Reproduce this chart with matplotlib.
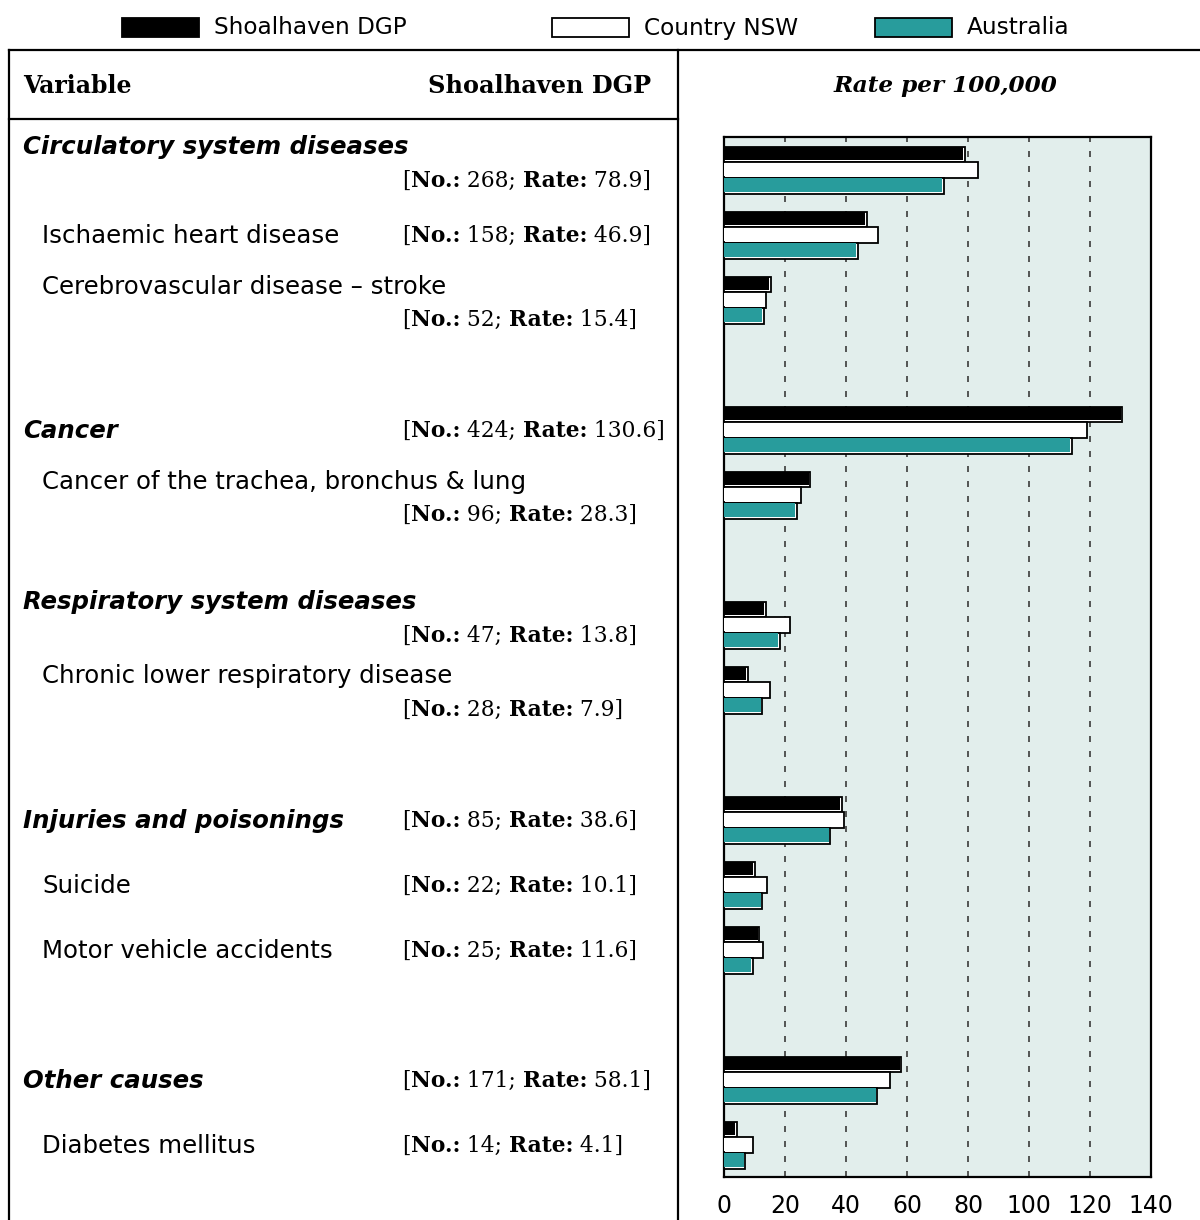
import matplotlib
matplotlib.use("Agg")
import matplotlib.pyplot as plt
import matplotlib.transforms as mtransforms
from matplotlib.patches import Rectangle

# rows of the table (top to bottom)
names = ["Circulatory system diseases", "Ischaemic heart disease",
         "Cerebrovascular disease \u2013 stroke", "Cancer",
         "Cancer of the trachea, bronchus & lung", "Respiratory system diseases",
         "Chronic lower respiratory disease", "Injuries and poisonings",
         "Suicide", "Motor vehicle accidents", "Other causes", "Diabetes mellitus"]
is_heading = [1, 0, 0, 1, 0, 1, 0, 1, 0, 0, 1, 0]
counts = [268, 158, 52, 424, 96, 47, 28, 85, 22, 25, 171, 14]

# rate per 100,000
shoalhaven = [78.9, 46.9, 15.4, 130.6, 28.3, 13.8, 7.9, 38.6, 10.1, 11.6, 58.1, 4.1]
country_nsw = [83.3, 50.6, 13.7, 118.9, 25.4, 21.6, 15.2, 39.5, 14.0, 12.7, 54.5, 9.4]
australia = [72.1, 43.9, 13.0, 114.0, 23.9, 18.3, 12.6, 34.9, 12.6, 9.4, 50.3, 7.0]

series_names = ["Shoalhaven DGP", "Country NSW", "Australia"]
xticks = [0, 20, 40, 60, 80, 100, 120, 140]

# layout: which rows put the bracket on a second line
two_line = [1, 0, 1, 0, 1, 1, 1, 0, 0, 0, 0, 0]

TEAL = "#289c9c"
BG = "#e2eeec"
colors = ["black", "white", TEAL]
SANS = ["DejaVu Sans"]
SERIF = ["DejaVu Serif"]

# slot of each row, a blank slot before each new section
pos = []
k = 0
for i, h in enumerate(is_heading):
    if h and i > 0:
        k += 1
    pos.append(k)
    k += 1
nslots = k

W, H = 1200, 1220
fig = plt.figure(figsize=(W / 100, H / 100), dpi=100)

# overlay in pixel coordinates for the table frame and text
tab = fig.add_axes([0, 0, 1, 1])
tab.set_xlim(0, W)
tab.set_ylim(H, 0)
tab.axis("off")

# bar chart
ax = fig.add_axes([724 / W, (H - 1177) / H, (1151 - 724) / W, (1177 - 137) / H])
ax.set_facecolor(BG)
ax.set_xlim(0, 140)
ax.set_ylim(nslots, 0)
ax.set_xticks(xticks)
ax.set_yticks([])
ax.tick_params(axis="x", length=0, pad=12)
for lab in ax.get_xticklabels():
    lab.set_fontfamily(SANS)
    lab.set_fontsize(17)
for s in ax.spines.values():
    s.set_linewidth(1.6)
for t in xticks[1:-1]:
    ax.axvline(t, color="#3a3a3a", lw=1.2, ls=(0, (3.6, 5.4)), zorder=1)

bh = 0.24
for j, vals in enumerate([shoalhaven, country_nsw, australia]):
    tops = [p + 0.15 + j * bh for p in pos]
    ax.barh(tops, vals, height=bh, align="edge", color="white",
            edgecolor="black", lw=1.3, zorder=3)
    ax.barh([t + 0.005 for t in tops], [v - 0.55 for v in vals], height=bh - 0.035,
            align="edge", color=colors[j], lw=0, zorder=4)

# table frame
lw = 1.6
tab.plot([9, W], [50, 50], color="black", lw=lw)
tab.plot([9, 678], [119, 119], color="black", lw=lw)
tab.plot([9, 9], [50, H], color="black", lw=lw)
tab.plot([678, 678], [50, H], color="black", lw=lw)

tab.text(23, 86, "Variable", fontsize=17, fontweight="bold", va="center", family=SERIF)
tab.text(651, 86, "Shoalhaven DGP", fontsize=17.3, fontweight="bold", va="center",
         ha="right", family=SERIF)
tab.text(945, 86, "Rate per 100,000", fontsize=16.7, fontweight="bold", style="italic",
         va="center", ha="center", family=SERIF)

# legend
leg_x = [122, 552, 875]
for x0, c, lab in zip(leg_x, colors, series_names):
    tab.add_patch(Rectangle((x0, 18), 77, 19, facecolor=c, edgecolor="black", lw=1.3))
    tab.text(x0 + 92, 28, lab, fontsize=16.7, va="center", family=SANS)

trans = mtransforms.blended_transform_factory(tab.transData, ax.transData)
fig.canvas.draw()
renderer = fig.canvas.get_renderer()


def bracket(x, y, n, rate):
    parts = [("[", "normal"), ("No.:", "bold"), (" %d; " % n, "normal"),
             ("Rate:", "bold"), (" %.1f]" % rate, "normal")]
    cur = x
    for txt, wgt in parts:
        t = tab.text(cur, y, txt, fontsize=15.7, fontweight=wgt, va="center",
                     transform=trans, family=SERIF)
        bb = t.get_window_extent(renderer)
        cur += bb.width * W / fig.bbox.width


for i, name in enumerate(names):
    p = pos[i]
    if is_heading[i]:
        x0 = 23
        kw = dict(fontweight="bold", style="italic")
    else:
        x0 = 42
        kw = {}
    if two_line[i]:
        ly = p + (0.15 if is_heading[i] else 0.3)
        by = ly + 0.52
    else:
        ly = by = p + 0.52
    tab.text(x0, ly, name, fontsize=17.6, va="center", transform=trans, family=SANS, **kw)
    bracket(402, by, counts[i], shoalhaven[i])

fig.savefig("out.png", dpi=100)
